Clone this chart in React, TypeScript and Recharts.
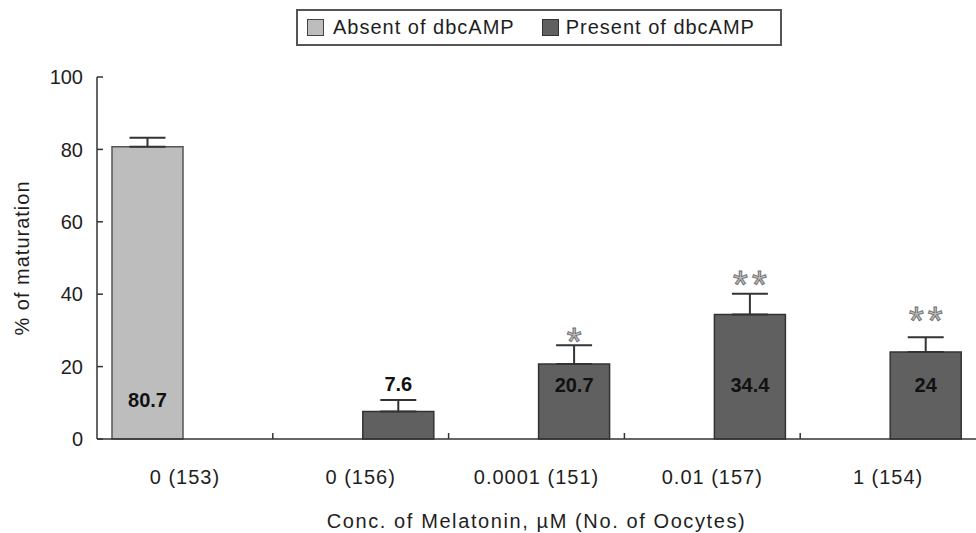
import React from 'react';
import {
  BarChart,
  Bar,
  XAxis,
  YAxis,
  ErrorBar,
  LabelList,
  Legend,
  Label,
} from 'recharts';

const categories = ['0 (153)', '0 (156)', '0.0001 (151)', '0.01 (157)', '1 (154)'];
const absentValues = [80.7, null, null, null, null];
const absentErrors = [2.5, null, null, null, null];
const presentValues = [null, 7.6, 20.7, 34.4, 24];
const presentErrors = [null, 3.2, 5.2, 5.7, 4.1];
const significance = ['', '', '*', '**', '**'];
const yTicks = [0, 20, 40, 60, 80, 100];

const data = categories.map((name, i) => ({
  name,
  absent: absentValues[i],
  absentErr: absentValues[i] == null ? null : [0, absentErrors[i]],
  present: presentValues[i],
  presentErr: presentValues[i] == null ? null : [0, presentErrors[i]],
  sig: significance[i],
}));

const WIDTH = 976;
const HEIGHT = 533;
const PLOT_LEFT = 97;
const PLOT_RIGHT = 0;
const PLOT_TOP = 77;
const X_AXIS_H = 94;
const BAND = (WIDTH - PLOT_LEFT - PLOT_RIGHT) / categories.length;
const FONT = '"Liberation Sans", Arial, sans-serif';
const AXIS = '#333';
const TEXT = '#1e1e1e';

const YTick = (props: any) => {
  const { x, y, payload } = props;
  return (
    <g>
      <line x1={x} x2={x + 6} y1={y} y2={y} stroke={AXIS} strokeWidth={1.5} />
      <text x={x - 14} y={y} dy="0.36em" textAnchor="end" fontSize={20} fill={TEXT} fontFamily={FONT}>
        {payload.value}
      </text>
    </g>
  );
};

const XTick = (props: any) => {
  const { x, y, payload, index } = props;
  return (
    <g>
      {index > 0 && (
        <line x1={x - BAND / 2} x2={x - BAND / 2} y1={y} y2={y - 6} stroke={AXIS} strokeWidth={1.5} />
      )}
      <text x={x} y={y + 45} textAnchor="middle" fontSize={20} letterSpacing={1} fill={TEXT} fontFamily={FONT}>
        {payload.value}
      </text>
    </g>
  );
};

// value labels sit near the bottom of the bars, except the small one which goes above its error bar
const valueLabel = (offsetFromBase: number) => (props: any) => {
  const { x, y, width, height, value } = props;
  if (value == null) return null;
  const base = y + height;
  let ly = base - offsetFromBase;
  if (height < 60) ly = y - 28;
  return (
    <text x={x + width / 2} y={ly} dy="0.36em" textAnchor="middle" fontSize={20} fontWeight="bold" fill="#111" fontFamily={FONT}>
      {value}
    </text>
  );
};

const sigLabel = (props: any) => {
  const { x, y, width, value, index } = props;
  if (!value) return null;
  const err = presentErrors[index] ?? 0;
  const pxPerUnit = (HEIGHT - X_AXIS_H - PLOT_TOP) / 100;
  const capY = y - err * pxPerUnit;
  const fs = 38;
  return (
    <text
      x={x + width / 2 + 2}
      y={capY - 15 + 0.45 * fs}
      textAnchor="middle"
      fontSize={fs}
      letterSpacing={4}
      fill="#c4c4c4"
      stroke="#707070"
      strokeWidth={1}
      fontFamily={FONT}
    >
      {value}
    </text>
  );
};

const LegendBox = () => (
  <div
    style={{
      position: 'absolute',
      left: 296,
      top: 9,
      width: 486,
      height: 37,
      border: '2px solid #555',
      boxSizing: 'border-box',
      display: 'flex',
      alignItems: 'center',
      fontFamily: FONT,
      fontSize: 20,
      letterSpacing: 1,
      color: TEXT,
    }}
  >
    <span style={{ width: 15, height: 15, background: '#bdbdbd', border: '1.5px solid #444', marginLeft: 9, marginRight: 9 }} />
    <span>Absent of dbcAMP</span>
    <span style={{ width: 15, height: 15, background: '#606060', border: '1.5px solid #333', marginLeft: 27, marginRight: 7 }} />
    <span>Present of dbcAMP</span>
  </div>
);

export default function App() {
  return (
    <div style={{ position: 'absolute', left: 0, top: 0, width: WIDTH, height: HEIGHT, background: '#fff' }}>
      <BarChart
        width={WIDTH}
        height={HEIGHT}
        data={data}
        margin={{ top: PLOT_TOP, right: PLOT_RIGHT, bottom: 0, left: 0 }}
        barCategoryGap={15}
        barGap={4}
      >
        <XAxis
          dataKey="name"
          height={X_AXIS_H}
          tick={<XTick />}
          tickLine={false}
          tickSize={0}
          tickMargin={0}
          axisLine={{ stroke: AXIS, strokeWidth: 1.5 }}
          interval={0}
        >
          <Label
            value="Conc. of Melatonin, µM (No. of Oocytes)"
            position="insideBottom"
            offset={5}
            style={{ fontSize: 20, letterSpacing: 1.6, fill: TEXT, fontFamily: FONT }}
          />
        </XAxis>
        <YAxis
          width={PLOT_LEFT}
          domain={[0, 100]}
          ticks={yTicks}
          tick={<YTick />}
          tickLine={false}
          tickSize={0}
          tickMargin={0}
          axisLine={{ stroke: AXIS, strokeWidth: 1.5 }}
        >
          <Label
            value="% of maturation"
            angle={-90}
            position="insideLeft"
            offset={22}
            style={{ fontSize: 20, letterSpacing: 1, fill: TEXT, fontFamily: FONT, textAnchor: 'middle' }}
          />
        </YAxis>
        <Legend content={() => <LegendBox />} wrapperStyle={{ position: 'absolute', left: 0, top: 0 }} />
        <Bar dataKey="absent" name="Absent of dbcAMP" fill="#bdbdbd" stroke="#555" strokeWidth={1.5} isAnimationActive={false}>
          <ErrorBar dataKey="absentErr" width={18} stroke="#333" strokeWidth={2} direction="y" />
          <LabelList dataKey="absent" content={valueLabel(39)} />
        </Bar>
        <Bar dataKey="present" name="Present of dbcAMP" fill="#606060" stroke="#333" strokeWidth={1.5} isAnimationActive={false}>
          <ErrorBar dataKey="presentErr" width={18} stroke="#333" strokeWidth={2} direction="y" />
          <LabelList dataKey="present" content={valueLabel(54)} />
          <LabelList dataKey="sig" content={sigLabel} />
        </Bar>
      </BarChart>
    </div>
  );
}
